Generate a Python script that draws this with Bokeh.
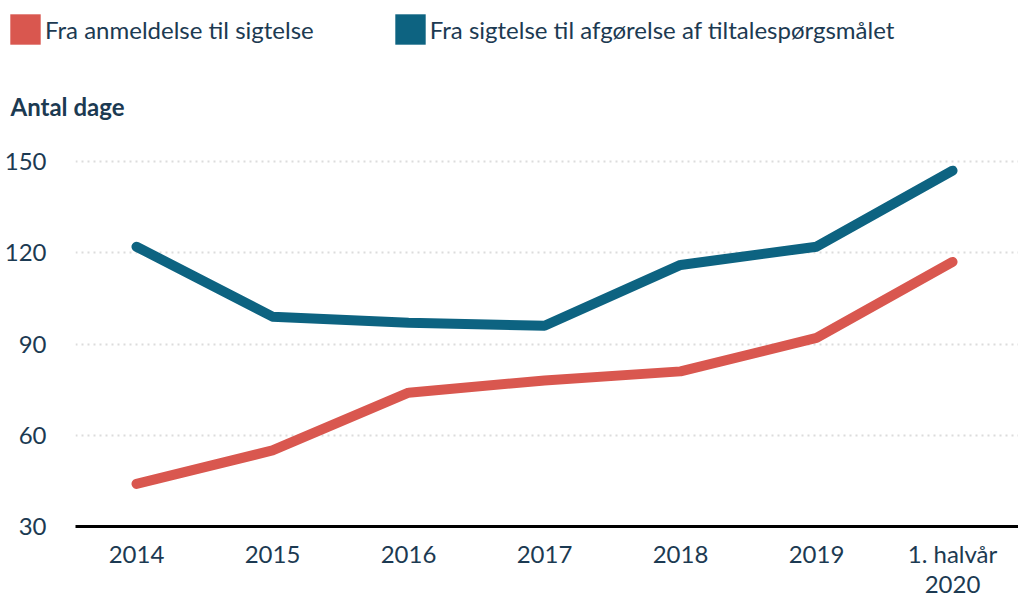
from bokeh.plotting import figure
from bokeh.layouts import column
from bokeh.models import Legend, LegendItem, FixedTicker, Range1d, Label
from bokeh.embed import file_html
from bokeh.resources import INLINE

categories = ["2014", "2015", "2016", "2017", "2018", "2019", "1. halvår\n2020"]
anmeldelse_til_sigtelse = [44, 55, 74, 78, 81, 92, 117]
sigtelse_til_afgoerelse = [122, 99, 97, 96, 116, 122, 147]
y_ticks = [30, 60, 90, 120, 150]
series_names = ["Fra anmeldelse til sigtelse",
                "Fra sigtelse til afgørelse af tiltalespørgsmålet"]
y_title = "Antal dage"

RED = "#d9574f"
BLUE = "#0d6381"
TEXT = "#1c3a52"
FONT = "Lato"
NAN = float("nan")

xs = list(range(len(categories)))

# ---- header (legend + y-axis title) ----
TOP_H = 123
top = figure(width=1018, height=TOP_H, output_backend="svg", toolbar_location=None,
             x_range=Range1d(0, 1), y_range=Range1d(0, 1),
             x_axis_location=None, y_axis_location=None,
             min_border_left=0, min_border_right=0, min_border_top=0,
             min_border_bottom=0)
top.frame_align = False
top.grid.visible = False
top.outline_line_color = None

# legend swatches (no visible data of their own)
sw_red = top.quad(left=[NAN], right=[NAN], top=[NAN], bottom=[NAN],
                  fill_color=RED, line_color=None)
sw_blue = top.quad(left=[NAN], right=[NAN], top=[NAN], bottom=[NAN],
                   fill_color=BLUE, line_color=None)
legend = Legend(items=[LegendItem(label=series_names[0], renderers=[sw_red]),
                       LegendItem(label=series_names[1], renderers=[sw_blue])],
                location=(6, TOP_H - 48), orientation="horizontal",
                glyph_width=38, glyph_height=38, label_height=38,
                label_standoff=1, spacing=77, padding=0, margin=0,
                border_line_color=None, background_fill_alpha=0,
                label_text_font=FONT, label_text_font_size="24px",
                label_text_color=TEXT, label_text_baseline="middle")
top.add_layout(legend, "center")
top.add_layout(Label(x=10, y=TOP_H - 106, x_units="screen", y_units="screen",
                     text=y_title, text_font=FONT, text_font_size="24px",
                     text_font_style="bold", text_color=TEXT,
                     text_baseline="middle", text_align="left"))

# ---- main chart ----
p = figure(width=1018, height=600 - TOP_H, output_backend="svg", toolbar_location=None,
           x_range=Range1d(-0.4485, 6.485), y_range=Range1d(30, 162.5),
           min_border_left=75, min_border_right=0, min_border_top=0,
           min_border_bottom=70)
p.frame_align = False
p.outline_line_color = None
p.background_fill_color = "white"
p.border_fill_color = "white"

p.line(xs, anmeldelse_til_sigtelse, line_color=RED, line_width=10,
       line_cap="round", line_join="round")
p.line(xs, sigtelse_til_afgoerelse, line_color=BLUE, line_width=10,
       line_cap="round", line_join="round")

p.yaxis.ticker = FixedTicker(ticks=y_ticks)
p.yaxis.axis_line_color = None
p.yaxis.major_tick_line_color = None
p.yaxis.minor_tick_line_color = None
p.yaxis.major_label_standoff = 23
p.yaxis.major_label_text_font = FONT
p.yaxis.major_label_text_font_size = "24px"
p.yaxis.major_label_text_color = TEXT

p.xaxis.ticker = FixedTicker(ticks=xs)
p.xaxis.major_label_overrides = {i: c for i, c in enumerate(categories)}
p.xaxis.axis_line_color = "black"
p.xaxis.axis_line_width = 3
p.xaxis.major_tick_line_color = None
p.xaxis.minor_tick_line_color = None
p.xaxis.major_label_standoff = 6
p.xaxis.major_label_text_font = FONT
p.xaxis.major_label_text_font_size = "24px"
p.xaxis.major_label_text_line_height = 1.05
p.xaxis.major_label_text_color = TEXT

p.xgrid.grid_line_color = None
p.ygrid.ticker = FixedTicker(ticks=y_ticks[1:])
p.ygrid.grid_line_color = "#dcdcdc"
p.ygrid.grid_line_width = 2
p.ygrid.grid_line_dash = "2 4"

layout = column(top, p, spacing=0)
open("out.html", "w").write(file_html(layout, INLINE))
